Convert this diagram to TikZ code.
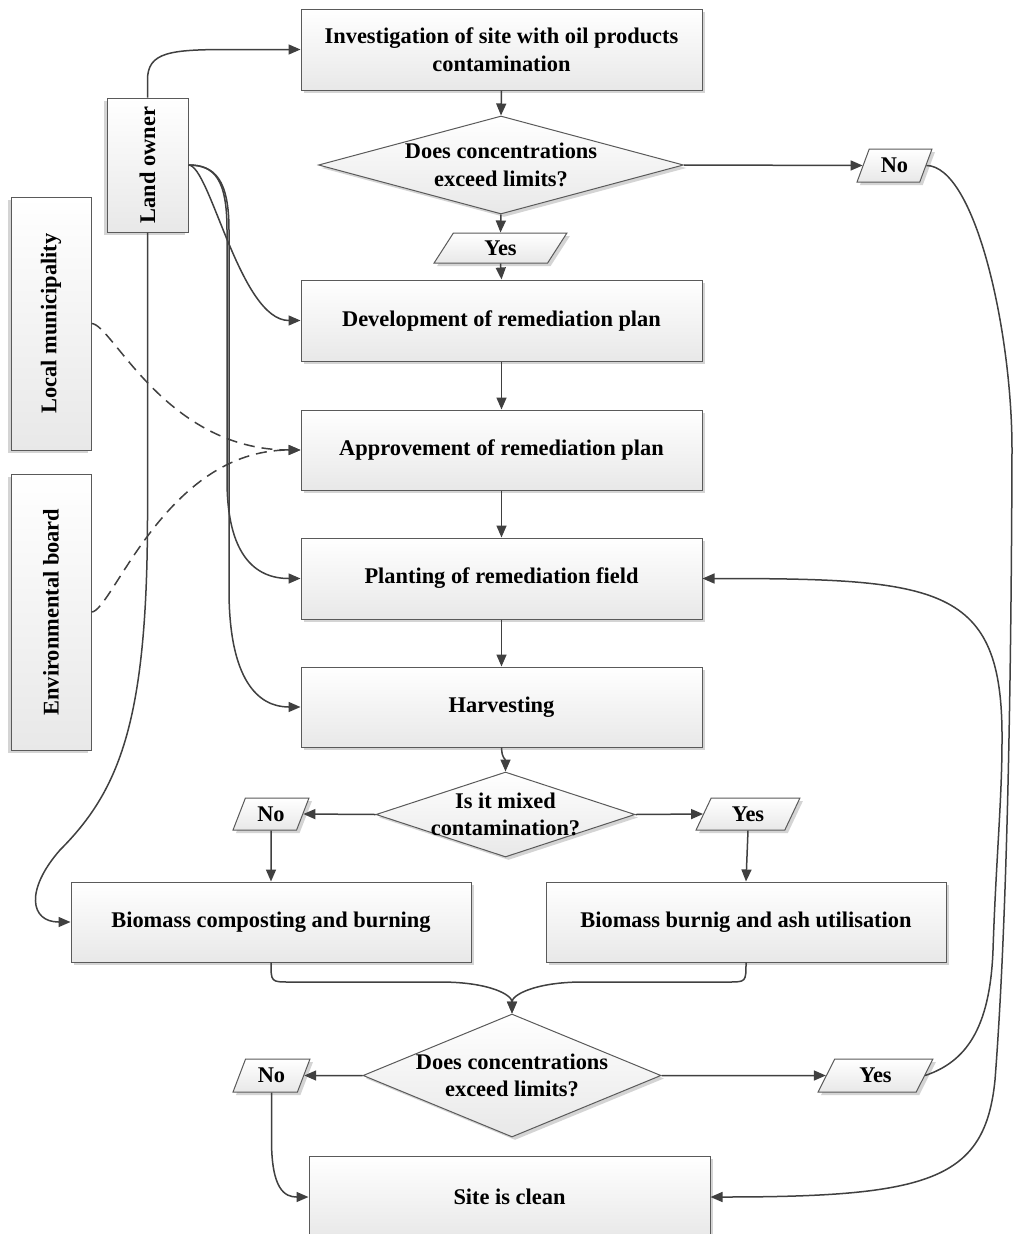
\documentclass[tikz,border=0pt]{standalone}
\usepackage{fontspec}
\setmainfont{Liberation Serif}
\usetikzlibrary{shapes.geometric,arrows.meta,shadows}
\definecolor{ln}{HTML}{404040}
\definecolor{bd}{HTML}{5A5A5A}
\definecolor{sh}{HTML}{D4D4D4}
\tikzset{
  lbl/.style={font=\fontsize{22.4pt}{27.7pt}\selectfont\bfseries, align=center, inner sep=0pt},
  base/.style={lbl, draw=bd, line width=1pt, top color=white, bottom color=black!9,
    drop shadow={shadow xshift=3pt, shadow yshift=-3pt, fill=sh, opacity=1}},
  box/.style={base, rectangle, minimum width=401pt, minimum height=81pt},
  vbox/.style={lbl, draw=bd, line width=1pt, rectangle, rotate=90, top color=white, bottom color=black!9,
    drop shadow={shadow xshift=-3pt, shadow yshift=-3pt, fill=sh, opacity=1}},
  dia/.style={base, diamond},
  para/.style={base, trapezium, trapezium left angle=66, trapezium right angle=114, trapezium stretches=true},
  arr/.style={draw=ln, line width=1.5pt, -{Triangle[length=12pt,width=10pt]}},
  darr/.style={arr, line width=1.5pt, dash pattern=on 11pt off 7pt}
}
\begin{document}
\begin{tikzpicture}[x=1pt,y=-1pt]
\useasboundingbox[fill=white] (0,0) rectangle (1013,1234);
% main column
\node[box] (inv) at (501.5,49.5) {Investigation of site with oil products\\contamination};
\node[dia, minimum width=365pt, minimum height=98pt] (d1) at (501,165) {};
\node[lbl] (d1t) at (d1.center) {Does concentrations\\exceed limits?};
\node[para, minimum width=133pt, minimum height=30pt] (y1) at (500.5,248) {Yes};
\node[para, minimum width=75pt, minimum height=33pt] (n1) at (894.5,165.5) {No};
\node[box] (dev) at (501.5,320.5) {Development of remediation plan};
\node[box, minimum height=80pt] (app) at (501.5,450) {Approvement of remediation plan};
\node[box] (pla) at (501.5,578.5) {Planting of remediation field};
\node[box, minimum height=80pt] (har) at (501.5,707) {Harvesting};
\node[dia, minimum width=259pt, minimum height=85pt] (d2) at (505.5,814.5) {};
\node[lbl] (d2t) at (d2.center) {Is it mixed\\contamination?};
\node[para, minimum width=76pt, minimum height=32pt] (n2) at (271,814) {No};
\node[para, minimum width=104pt, minimum height=32pt] (y2) at (748,814) {Yes};
\node[box, minimum width=400pt, minimum height=80pt] (bc) at (271,922) {Biomass composting and burning};
\node[box, minimum width=400pt, minimum height=80pt] (bb) at (746,922) {Biomass burnig and ash utilisation};
\node[dia, minimum width=298pt, minimum height=123pt] (d3) at (512,1075.5) {};
\node[lbl] (d3t) at (d3.center) {Does concentrations\\exceed limits?};
\node[para, minimum width=77pt, minimum height=33pt] (n3) at (271.5,1075.5) {No};
\node[para, minimum width=115pt, minimum height=33pt] (y3) at (875.5,1075.5) {Yes};
\node[box, minimum height=82pt] (site) at (509.5,1197) {Site is clean};
% actors
\node[vbox, minimum width=134pt, minimum height=81pt] (lo) at (147.5,165) {Land owner};
\node[vbox, minimum width=253pt, minimum height=80pt] (lm) at (51,323.5) {Local municipality};
\node[vbox, minimum width=276pt, minimum height=80pt] (eb) at (51,612) {Environmental board};
% straight flow
\draw[arr] (inv.south) -- (d1.north);
\draw[arr] (d1.south) -- (y1.north);
\draw[arr] (y1.south) -- (dev.north);
\draw[arr] (d1.east) -- (n1.west);
\draw[arr] (dev.south) -- (app.north);
\draw[arr] (app.south) -- (pla.north);
\draw[arr] (pla.south) -- (har.north);
\draw[arr] (har.south) .. controls (502,760) and (505.5,758) .. (d2.north);
\draw[arr] (d2.west) -- (n2.east);
\draw[arr] (d2.east) -- (y2.west);
\draw[arr] (n2.south) -- (bc.north);
\draw[arr] (y2.south) -- (bb.north);
\draw[arr] (bc.south) .. controls (271,982) .. (290,982) -- (440,982) .. controls (490,982) and (512,995) .. (d3.north);
\draw[arr] (bb.south) .. controls (746,982) .. (728,982) -- (583,982) .. controls (535,982) and (512,995) .. (d3.north);
\draw[arr] (d3.west) -- (n3.east);
\draw[arr] (d3.east) -- (y3.west);
\draw[arr] (n3.south) -- (271.5,1140) .. controls (271.5,1190) and (285,1197) .. (site.west);
\draw[arr] (n1.east) .. controls (975,166) and (1012,330) .. (1012,450) .. controls (1011,750) and (1005,950) .. (995,1080) .. controls (985,1180) and (930,1197) .. (site.east);
\draw[arr] (y3.east) .. controls (965,1062) and (990,1030) .. (993,950) .. controls (996,860) and (1002,800) .. (1002,740) .. controls (1003,585) and (940,578.5) .. (pla.east);
% land owner links
\draw[arr] (lo.east) -- (147.5,80) .. controls (147.5,52) and (170,49.5) .. (230,49.5) -- (inv.west);
\draw[arr] (lo.south) .. controls (210,165) and (240,320.5) .. (dev.west);
\draw[arr] (lo.south) .. controls (215,165) and (227,180) .. (227,230) -- (227,480) .. controls (227,555) and (255,578.5) .. (pla.west);
\draw[arr] (lo.south) .. controls (215,165) and (229,180) .. (229,230) -- (229,590) .. controls (229,680) and (258,707) .. (har.west);
\draw[arr] (lo.west) -- (147.5,520) .. controls (147,720) and (120,790) .. (60,850) .. controls (25,890) and (30,922) .. (bc.west);
% authorities
\draw[darr] (lm.south) .. controls (112,323.5) and (165,450) .. (app.west);
\draw[darr] (eb.south) .. controls (112,612) and (165,450) .. (app.west);
\end{tikzpicture}
\end{document}
